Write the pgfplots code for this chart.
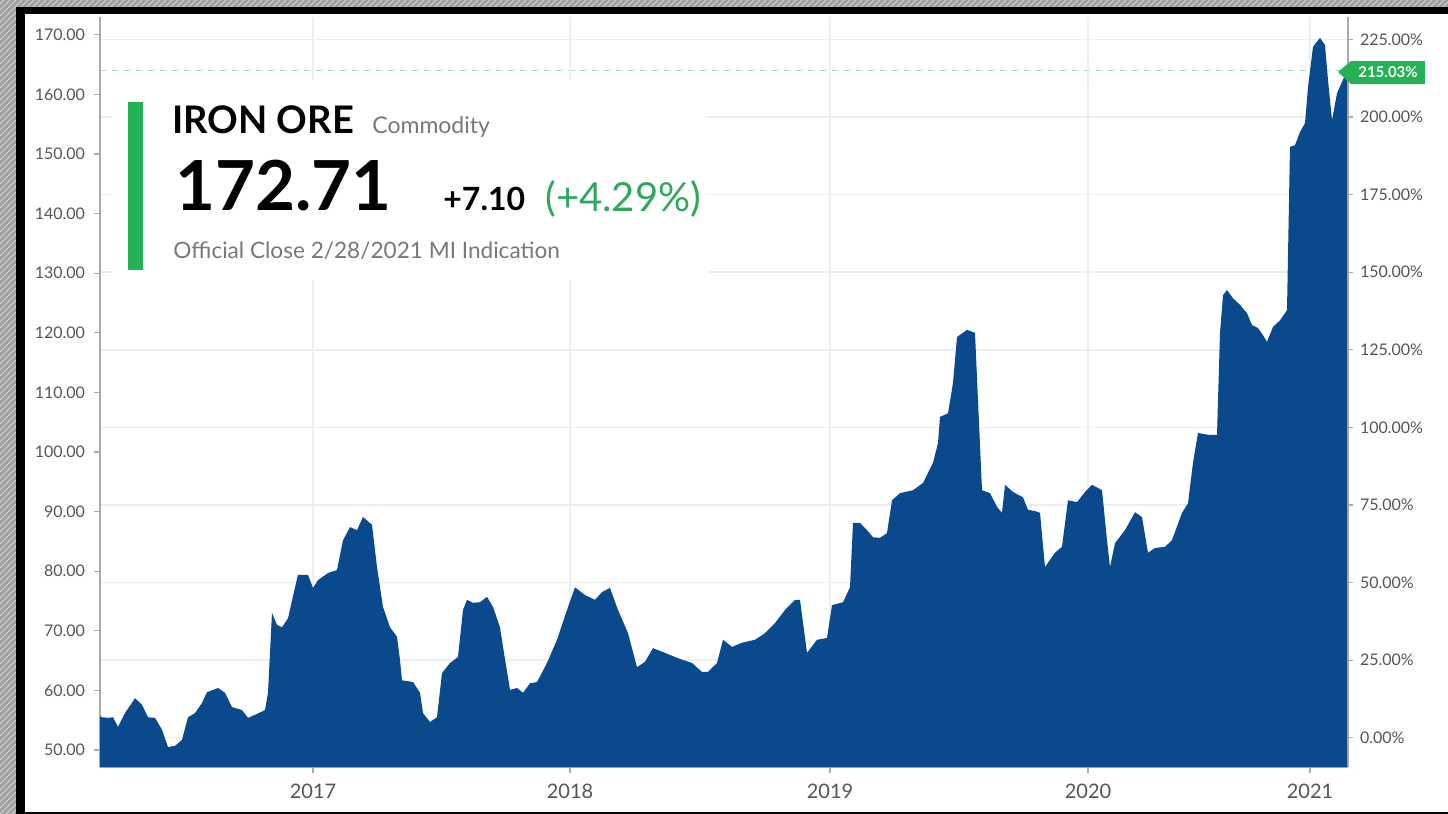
\documentclass[border=0pt]{standalone}
\usepackage{fontspec}
\setmainfont{Lato}
\usepackage{pgfplots}
\usepackage{pgfplotstable}
\pgfplotsset{compat=1.18}
\usetikzlibrary{patterns}
\definecolor{ironblue}{RGB}{9,73,140}
\definecolor{tagreen}{RGB}{36,178,84}
\definecolor{txtgreen}{RGB}{46,168,92}
\definecolor{ticktxt}{RGB}{85,85,85}
\definecolor{subtxt}{RGB}{120,120,120}
\definecolor{gridc}{RGB}{238,238,238}
\definecolor{dashc}{RGB}{160,214,204}
\definecolor{hatchbg}{RGB}{160,160,160}
\definecolor{hatchfg}{RGB}{210,210,210}
\definecolor{axc}{RGB}{170,170,170}

\pgfplotstableread{
x y
100 55.7
102 55.5
108 55.4
113 55.5
118 53.9
125 56.2
135 58.7
142 57.6
148 55.5
155 55.4
162 53.4
168 50.5
175 50.7
182 51.7
188 55.5
195 56.2
202 57.9
207 59.7
218 60.4
225 59.6
232 57.2
242 56.7
248 55.4
255 55.9
265 56.7
268 59.6
272 73.0
277 71.0
282 70.6
288 72.1
295 77.3
298 79.4
308 79.4
313 77.2
318 78.5
328 79.7
337 80.2
343 85.2
350 87.4
357 86.9
363 89.1
372 87.8
377 80.7
383 74.0
390 70.6
397 69.0
400 65.1
402 61.7
413 61.4
420 59.6
423 56.2
430 54.7
437 55.5
442 62.9
450 64.6
458 65.6
463 73.5
467 75.2
473 74.7
480 74.8
487 75.7
493 74.0
500 70.6
503 67.3
510 60.1
517 60.4
523 59.6
530 61.2
537 61.4
547 64.6
557 68.5
567 73.5
575 77.3
585 76.0
595 75.2
602 76.5
610 77.2
618 73.5
628 69.6
637 63.9
645 64.8
653 67.1
665 66.3
678 65.4
692 64.6
702 63.1
708 63.1
717 64.6
723 68.5
732 67.3
742 68.0
755 68.5
765 69.6
775 71.3
785 73.5
795 75.2
800 75.2
807 66.3
817 68.5
827 68.8
832 74.3
843 74.8
850 77.3
853 88.1
860 88.1
867 86.9
873 85.7
880 85.6
887 86.4
892 91.9
900 93.1
913 93.6
923 94.8
933 98.2
938 101.5
940 105.9
948 106.5
953 111.6
957 119.3
967 120.5
975 120.0
978 108.7
982 93.6
990 93.1
997 90.8
1002 89.8
1005 94.5
1013 93.3
1023 92.4
1028 90.3
1035 90.1
1040 89.8
1045 80.7
1055 83.1
1062 84.1
1068 91.9
1077 91.6
1085 93.3
1092 94.5
1102 93.6
1107 85.2
1110 80.7
1115 84.7
1125 86.9
1135 89.9
1142 89.1
1148 83.1
1155 83.9
1165 84.1
1172 85.2
1182 89.8
1188 91.4
1193 98.2
1198 103.2
1208 102.9
1217 102.9
1220 120.0
1223 126.3
1227 127.2
1233 125.8
1240 124.7
1247 123.3
1252 121.3
1258 120.8
1263 119.6
1267 118.5
1273 121.0
1280 122.1
1287 123.8
1290 151.2
1295 151.5
1300 153.7
1305 155.2
1308 161.2
1313 168.0
1320 169.5
1325 168.3
1328 162.4
1332 155.7
1337 160.2
1342 162.1
1347 164.0
}\pricedata

\pgfplotsset{
  common/.style={
    at={(50pt,-383.5pt)}, anchor=south west,
    scale only axis, width=624pt, height=375pt,
    xmin=100, xmax=1348,
    /pgf/number format/assume math mode=true,
    axis line style={draw=axc, line width=0.6pt},
    tick align=outside,
    major tick length=2.5pt,
    every tick/.style={draw=axc, line width=0.6pt},
    tick label style={text=ticktxt, font=\fontsize{8}{9}\selectfont},
  }
}

\begin{document}
\begin{tikzpicture}
\useasboundingbox (0,0) rectangle (724pt,-407pt);
\begin{scope}[x=0.5pt,y=-0.5pt]
\fill[hatchbg] (0,0) rectangle (1448,814);
\fill[pattern=north east lines, pattern color=hatchfg] (0,0) rectangle (1448,814);
\fill[black] (16,7) rectangle (1448,814);
\fill[white] (25,14) rectangle (1448,812);
\end{scope}

% percent axis (right), with horizontal grid
\begin{axis}[common,
  ymin=-9.449, ymax=232.246,
  axis x line=none, axis y line*=right,
  ytick={0,25,...,225},
  yticklabel={\pgfmathprintnumber[fixed,fixed zerofill,precision=2]{\tick}\%},
  yticklabel style={xshift=0pt},
  ymajorgrids, grid style={draw=gridc, line width=0.8pt},
]
\addplot[dashc, line width=0.9pt, dash pattern=on 3pt off 3pt] coordinates {(100,215.03) (1340,215.03)};
\end{axis}

% price axis (left)
\begin{axis}[common,
  ymin=47.15, ymax=173,
  axis x line*=bottom, axis y line*=left,
  xtick={313,570,830,1088,1310},
  xticklabels={2017,2018,2019,2020,2021},
  xticklabel style={font=\fontsize{10}{12}\selectfont, yshift=-2pt},
  major tick length=3pt,
  xmajorgrids, grid style={draw=gridc, line width=0.8pt},
  ytick={50,60,...,170},
  yticklabel={\pgfmathprintnumber[fixed,fixed zerofill,precision=2]{\tick}},
  yticklabel style={xshift=-1pt},
]
\addplot[fill=ironblue, draw=none] table {\pricedata} \closedcycle;
\end{axis}

\begin{scope}[x=0.5pt,y=-0.5pt]
\fill[white] (112,80) rectangle (706,280);
\fill[tagreen] (128,102) rectangle (143,270);
\node[anchor=base west, inner sep=0, font=\fontsize{19}{20}\selectfont\bfseries] at (172,133) {IRON ORE};
\node[anchor=base west, inner sep=0, text=subtxt, font=\fontsize{11.5}{12}\selectfont] at (372,133) {Commodity};
\node[anchor=base west, inner sep=0, font=\fontsize{34.5}{36}\selectfont\bfseries] at (175,210) {172.71};
\node[anchor=base west, inner sep=0, font=\fontsize{16}{18}\selectfont\bfseries] at (443,210) {+7.10};
\node[anchor=base west, inner sep=0, text=txtgreen, font=\fontsize{20}{21}\selectfont] at (545,211) {(+4.29\%)};
\node[anchor=base west, inner sep=0, text=subtxt, font=\fontsize{11.3}{12}\selectfont] at (173,258) {Official Close 2/28/2021 MI Indication};
\fill[tagreen] (1338,72) -- (1351,61) -- (1425,61) -- (1425,84) -- (1351,84) -- cycle;
\node[text=white, inner sep=0, font=\fontsize{7.5}{8}\selectfont\bfseries] at (1388,72.5) {215.03\%};
\end{scope}
\end{tikzpicture}
\end{document}
